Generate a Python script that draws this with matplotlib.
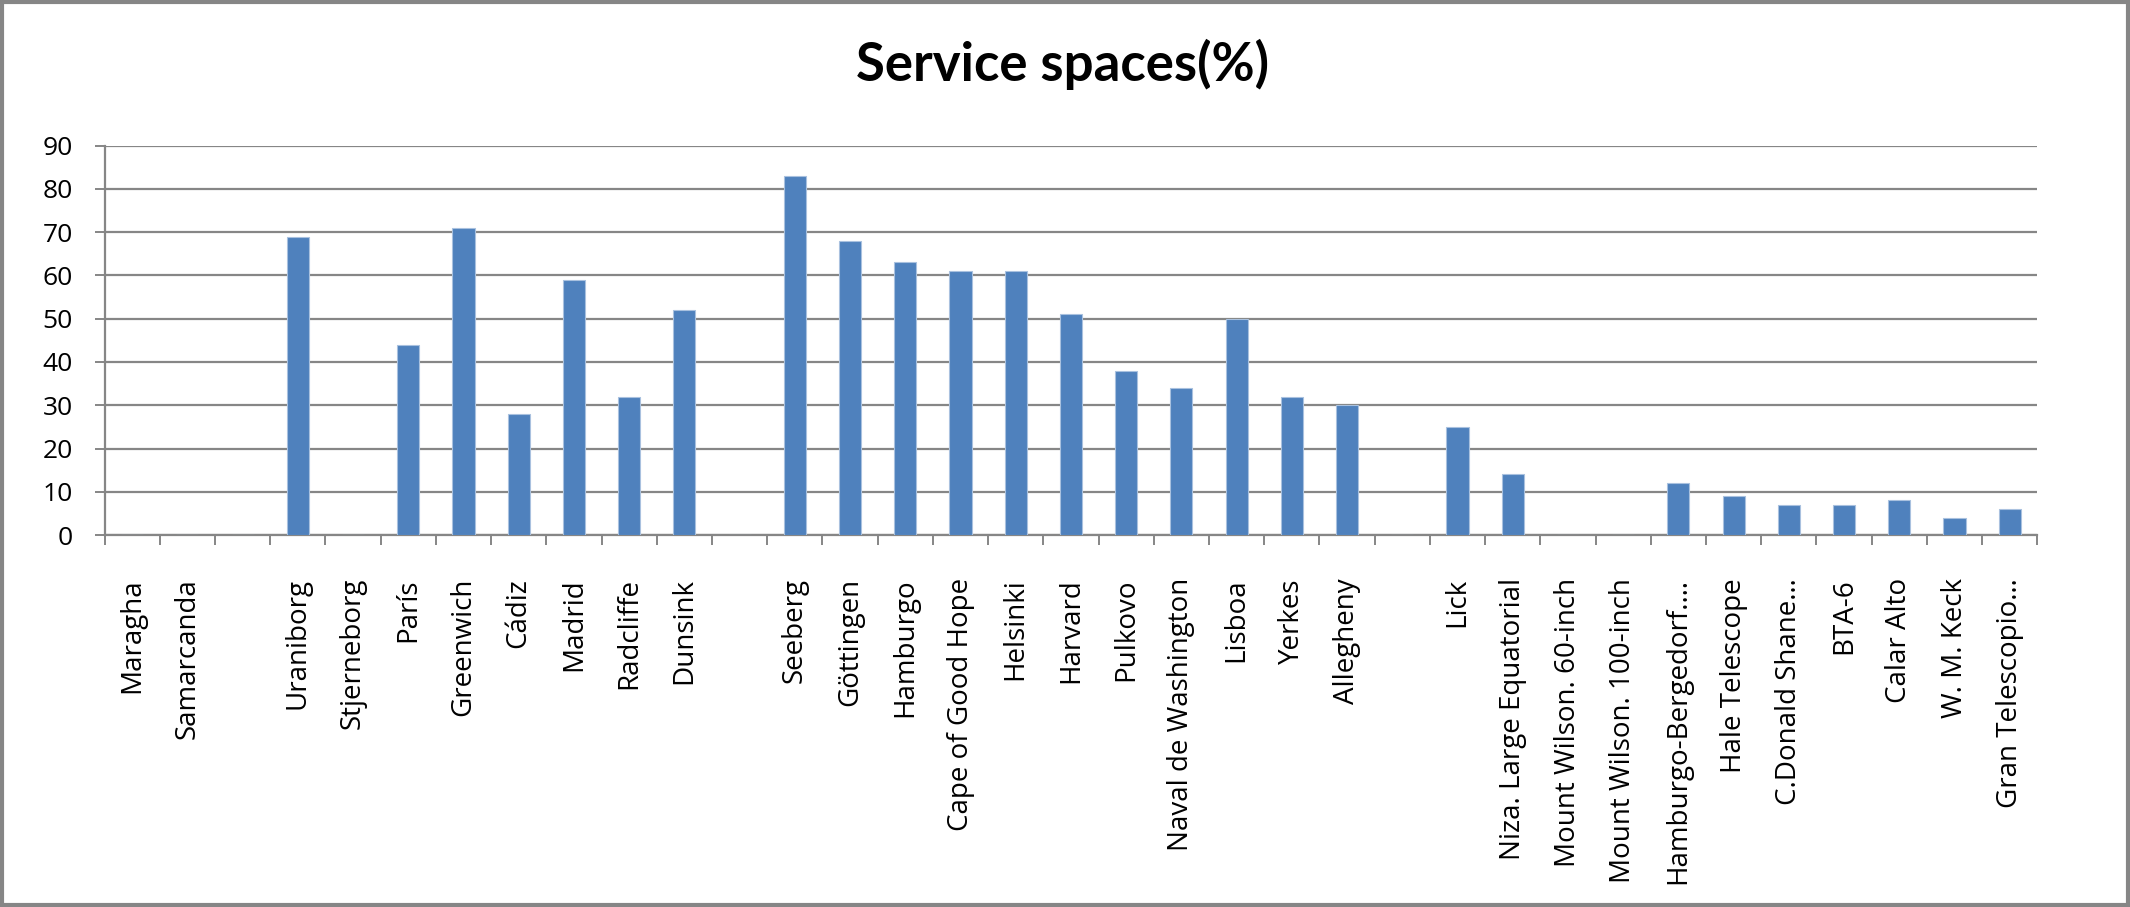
import matplotlib
matplotlib.use("Agg")
import matplotlib.pyplot as plt
from matplotlib.patches import Rectangle
import numpy as np

# data ('' marks an empty slot on the category axis)
categories = [
    "Maragha", "Samarcanda", "",
    "Uraniborg", "Stjerneborg", "París", "Greenwich", "Cádiz", "Madrid",
    "Radcliffe", "Dunsink", "",
    "Seeberg", "Göttingen", "Hamburgo", "Cape of Good Hope", "Helsinki",
    "Harvard", "Pulkovo", "Naval de Washington", "Lisboa", "Yerkes",
    "Allegheny", "",
    "Lick", "Niza. Large Equatorial", "Mount Wilson. 60-inch",
    "Mount Wilson. 100-inch", "Hamburgo-Bergedorf.…", "Hale Telescope",
    "C.Donald Shane…", "BTA-6", "Calar Alto", "W. M. Keck", "Gran Telescopio…",
]
service_pct = [
    np.nan, np.nan, np.nan,
    69, np.nan, 44, 71, 28, 59,
    32, 52, np.nan,
    83, 68, 63, 61, 61,
    51, 38, 34, 50, 32,
    30, np.nan,
    25, 14, np.nan,
    np.nan, 12, 9,
    7, 7, 8, 4, 6,
]
yticks = list(range(0, 100, 10))

grey = "#868686"
bar_blue = "#4F81BD"

fig = plt.figure(figsize=(21.3, 9.07), dpi=100)
ax = fig.add_axes([0.0491, 0.4101, 0.9074, 0.4293])

x = np.arange(len(categories))
vals = np.array(service_pct, dtype=float)
ax.bar(x, np.nan_to_num(vals), width=0.4, color=bar_blue,
       edgecolor="#a9c1df", linewidth=0.8, zorder=3)

ax.set_xlim(-0.5, len(categories) - 0.5)
ax.set_ylim(0, 90)
ax.set_yticks(yticks)
ax.set_yticklabels([str(v) for v in yticks], fontsize=19, family="Open Sans")
ax.yaxis.grid(True, color=grey, linewidth=1.6, zorder=0)
ax.set_axisbelow(True)

# ticks between categories, labels at centres
ax.set_xticks(np.arange(-0.5, len(categories), 1.0))
ax.set_xticklabels([])
ax.set_xticks(x, minor=True)
ax.set_xticklabels(categories, minor=True, rotation=90, fontsize=20,
                   family="Open Sans", va="top", ha="center")
ax.tick_params(axis="x", which="minor", length=0, pad=31)
ax.tick_params(axis="x", which="major", length=7, width=1.4, color=grey,
               direction="out")
ax.tick_params(axis="y", length=7, width=1.4, color=grey, direction="out",
               pad=16)

for side in ["top", "right"]:
    ax.spines[side].set_visible(False)
for side in ["left", "bottom"]:
    ax.spines[side].set_color(grey)
    ax.spines[side].set_linewidth(1.6)

fig.text(0.499, 1 - 81 / 907, "Service spaces(%)", ha="center",
         va="baseline", fontsize=38, fontweight="bold", family="Lato")

# outer chart border
fig.patches.append(Rectangle((0.001, 0.002), 0.998, 0.996,
                             transform=fig.transFigure, fill=False,
                             edgecolor=grey, linewidth=3))

fig.savefig("out.png", dpi=100)
